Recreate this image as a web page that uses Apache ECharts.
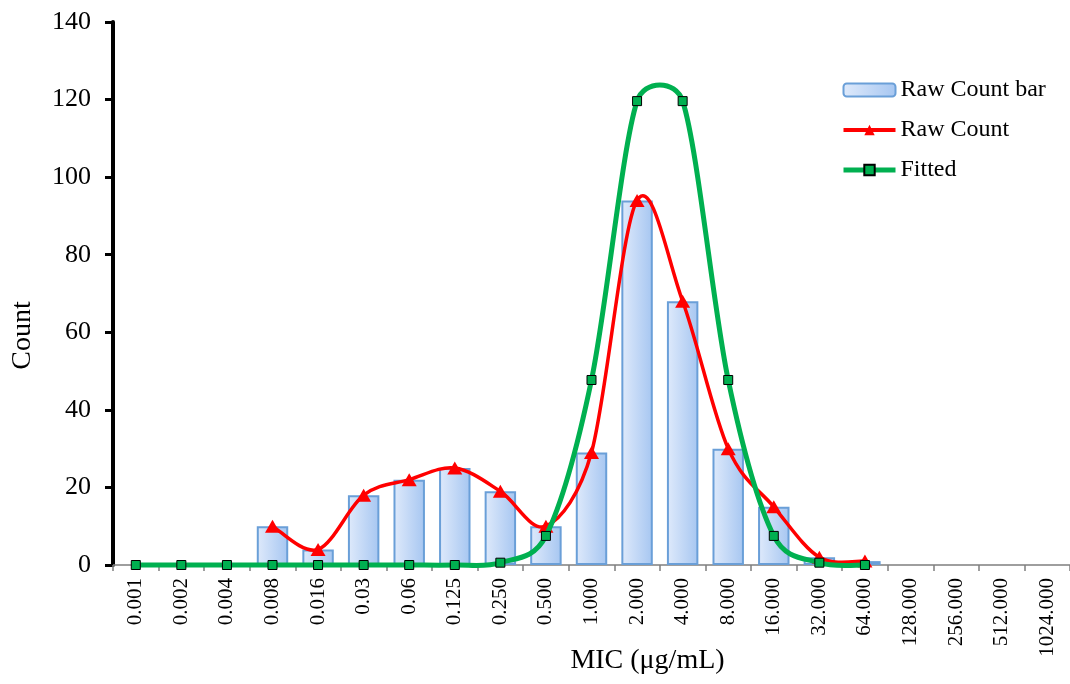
<!DOCTYPE html>
<html>
<head>
<meta charset="utf-8">
<script src="https://cdn.jsdelivr.net/npm/echarts@6/dist/echarts.min.js"></script>
<style>
  html, body { margin: 0; padding: 0; background: #fff; }
  #main { width: 1070px; height: 684px; }
</style>
</head>
<body>
<div id="main"></div>
<script>
// MIC categories (x axis)
var micLabels = ['0.001', '0.002', '0.004', '0.008', '0.016', '0.03', '0.06', '0.125', '0.250', '0.500',
  '1.000', '2.000', '4.000', '8.000', '16.000', '32.000', '64.000', '128.000', '256.000', '512.000', '1024.000'];
// bars (null = no bar)
var barCounts = [null, null, null, 10, 4, 18, 22, 25, 19, 10, 29, 94, 68, 30, 15, 2, 1, null, null, null, null];
// red line with triangles
var rawCounts = [null, null, null, 10, 4, 18, 22, 25, 19, 10, 29, 94, 68, 30, 15, 2, 1, null, null, null, null];
// green fitted curve
var fitted = [0, 0, 0, 0, 0, 0, 0, 0, 0.6, 7.5, 47.7, 119.6, 119.6, 47.7, 7.5, 0.6, 0, null, null, null, null];
var yTicks = { min: 0, max: 140, step: 20 };

var serif = "'Liberation Serif', 'Times New Roman', serif";

function dist(a, b) {
  return Math.sqrt((a[0] - b[0]) * (a[0] - b[0]) + (a[1] - b[1]) * (a[1] - b[1]));
}

// excel-like smoothed curve through the data points (pixel coords from the axes)
function smoothCurve(values, color, width) {
  return function (params, api) {
    var pts = [];
    values.forEach(function (v, i) {
      if (v != null) pts.push(api.coord([i, v]));
    });
    var kids = [];
    for (var k = 0; k < pts.length - 1; k++) {
      var p0 = pts[k - 1] || pts[k], p1 = pts[k], p2 = pts[k + 1], p3 = pts[k + 2] || pts[k + 1];
      var d12 = dist(p1, p2), d02 = dist(p0, p2), d13 = dist(p1, p3);
      var f1 = d02 > 0 ? Math.min(1 / 6, d12 / (2 * d02)) : 0;
      var f2 = d13 > 0 ? Math.min(1 / 6, d12 / (2 * d13)) : 0;
      kids.push({
        type: 'bezierCurve',
        shape: {
          x1: p1[0], y1: p1[1], x2: p2[0], y2: p2[1],
          cpx1: p1[0] + f1 * (p2[0] - p0[0]), cpy1: p1[1] + f1 * (p2[1] - p0[1]),
          cpx2: p2[0] - f2 * (p3[0] - p1[0]), cpy2: p2[1] - f2 * (p3[1] - p1[1])
        },
        style: { stroke: color, lineWidth: width, fill: null, lineCap: 'round' }
      });
    }
    return { type: 'group', children: kids };
  };
}

var option = {
  animation: false,
  backgroundColor: '#fff',
  textStyle: { fontFamily: serif, color: '#000' },
  grid: { left: 113, right: 0, top: 22, bottom: 119, containLabel: false, outerBoundsMode: 'none' },
  legend: {
    orient: 'vertical',
    left: 836,
    top: 73,
    itemWidth: 52,
    itemHeight: 13,
    itemGap: 16,
    textStyle: { fontFamily: serif, fontSize: 24, color: '#000' },
    data: [
      { name: 'Raw Count bar' },
      { name: 'Raw Count', lineStyle: { color: '#ff0000', width: 4, opacity: 1 } },
      { name: 'Fitted', lineStyle: { color: '#00b050', width: 5, opacity: 1 } }
    ]
  },
  xAxis: {
    type: 'category',
    data: micLabels,
    boundaryGap: true,
    name: 'MIC (μg/mL)',
    nameLocation: 'middle',
    nameGap: 82,
    nameMoveOverlap: false,
    nameTextStyle: { fontFamily: serif, fontSize: 28, color: '#000', padding: [0, 0, 0, 112] },
    axisLine: { lineStyle: { color: '#7f7f7f', width: 1.5 } },
    axisTick: { show: true, interval: 0, length: 6, lineStyle: { color: '#7f7f7f', width: 1.5 } },
    axisLabel: { interval: 0, rotate: 90, margin: 13, fontFamily: serif, fontSize: 21, color: '#000' },
    splitLine: { show: false }
  },
  yAxis: {
    type: 'value',
    min: yTicks.min,
    max: yTicks.max,
    interval: yTicks.step,
    name: 'Count',
    nameLocation: 'middle',
    nameRotate: 90,
    nameGap: 76,
    nameMoveOverlap: false,
    nameTextStyle: { fontFamily: serif, fontSize: 28, color: '#000', padding: [0, 84, 0, 0] },
    axisLine: { show: true, lineStyle: { color: '#000', width: 4 } },
    axisTick: { show: true, length: 8, lineStyle: { color: '#000', width: 3 } },
    axisLabel: { margin: 22, fontFamily: serif, fontSize: 26, color: '#000' },
    splitLine: { show: false }
  },
  series: [
    {
      name: 'Raw Count bar',
      type: 'bar',
      data: barCounts,
      barWidth: '69%',
      z: 1,
      itemStyle: {
        color: new echarts.graphic.LinearGradient(0, 0, 1, 0, [
          { offset: 0, color: '#dfeafb' },
          { offset: 1, color: '#a6c6f1' }
        ]),
        borderColor: '#6a9fd8',
        borderWidth: 2
      }
    },
    {
      name: 'Raw Count curve',
      type: 'custom',
      coordinateSystem: 'cartesian2d',
      data: [[0, 0]],
      z: 2,
      silent: true,
      renderItem: smoothCurve(rawCounts, '#ff0000', 3.5)
    },
    {
      name: 'Raw Count',
      type: 'line',
      data: rawCounts,
      z: 3,
      symbol: 'triangle',
      symbolSize: [15, 13],
      lineStyle: { color: '#ff0000', width: 3.5, opacity: 0 },
      itemStyle: { color: '#ff0000', borderWidth: 0 }
    },
    {
      name: 'Fitted curve',
      type: 'custom',
      coordinateSystem: 'cartesian2d',
      data: [[0, 0]],
      z: 4,
      silent: true,
      renderItem: smoothCurve(fitted, '#00b050', 5)
    },
    {
      name: 'Fitted',
      type: 'line',
      data: fitted,
      z: 5,
      symbol: 'rect',
      symbolSize: 9,
      lineStyle: { color: '#00b050', width: 5, opacity: 0 },
      itemStyle: { color: '#00b050', borderColor: '#000', borderWidth: 1 }
    }
  ]
};

var chart = echarts.init(document.getElementById('main'));
chart.setOption(option);
window.addEventListener('resize', function () { chart.resize(); });
</script>
</body>
</html>
